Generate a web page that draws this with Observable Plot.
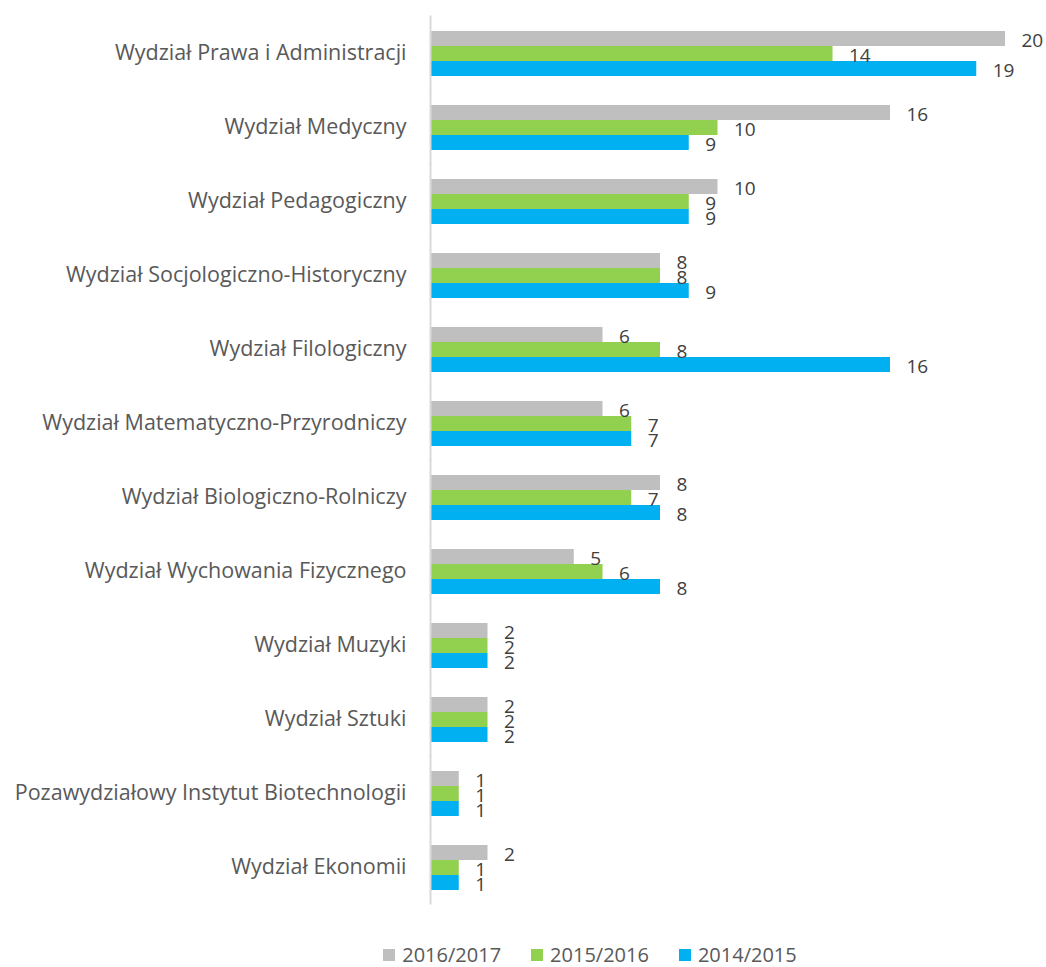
<!DOCTYPE html>
<html>
<head>
<meta charset="utf-8">
<script src="https://cdn.jsdelivr.net/npm/d3@7"></script>
<script src="https://cdn.jsdelivr.net/npm/@observablehq/plot@0.6"></script>
<style>
  html, body { margin: 0; background: #fff; font-family: "Open Sans", sans-serif; overflow: hidden; }
  #chart svg { display: block; }
  #legend { display: flex; justify-content: center; align-items: center; height: 24px; line-height: 24px; margin-top: 13px; font-size: 20px; color: #595959; padding-left: 134px; }
  .item { display: flex; align-items: center; margin: 0 15px; }
  .sw { width: 12px; height: 12px; margin-right: 7px; }
</style>
</head>
<body>
<div id="chart"></div>
<div id="legend"></div>
<script>
const categories = [
  "Wydział Prawa i Administracji",
  "Wydział Medyczny",
  "Wydział Pedagogiczny",
  "Wydział Socjologiczno-Historyczny",
  "Wydział Filologiczny",
  "Wydział Matematyczno-Przyrodniczy",
  "Wydział Biologiczno-Rolniczy",
  "Wydział Wychowania Fizycznego",
  "Wydział Muzyki",
  "Wydział Sztuki",
  "Pozawydziałowy Instytut Biotechnologii",
  "Wydział Ekonomii"
];
const seriesNames = ["2016/2017", "2015/2016", "2014/2015"];
const seriesColors = ["#BFBFBF", "#92D050", "#00B0F0"];
const v2016 = [20, 16, 10, 8, 6, 6, 8, 5, 2, 2, 1, 2];
const v2015 = [14, 10, 9, 8, 8, 7, 7, 6, 2, 2, 1, 1];
const v2014 = [19, 9, 9, 9, 16, 7, 8, 8, 2, 2, 1, 1];

const seriesValues = [v2016, v2015, v2014];
const data = [];
categories.forEach((c, i) => {
  seriesNames.forEach((s, j) => data.push({category: c, series: s, value: seriesValues[j][i]}));
});

const chart = Plot.plot({
  width: 1046,
  height: 930,
  marginLeft: 430,
  marginRight: 41,
  marginTop: 14,
  marginBottom: 24,
  style: {fontFamily: "Open Sans, sans-serif", background: "#fff"},
  x: {domain: [0, 20], axis: null},
  y: {domain: seriesNames, axis: null, padding: 0},
  fy: {domain: categories, paddingInner: 0.38, paddingOuter: 0.19, label: null},
  color: {domain: seriesNames, range: seriesColors},
  marks: [
    Plot.axisFy({tickSize: 0, tickPadding: 24, fontSize: 21.5, fill: "#595959", label: null, anchor: "left"}),
    Plot.barX(data, {fy: "category", y: "series", x: "value", fill: "series", insetTop: 0, insetBottom: 0}),
    Plot.ruleX(categories, {fy: d => d, x: () => 0, stroke: "#D9D9D9", strokeWidth: 2, insetTop: -14.5, insetBottom: -14.5}),
    Plot.text(data, {fy: "category", y: "series", x: "value", text: d => String(d.value), textAnchor: "start", dx: 16, dy: 2, fontSize: 19, fill: "#404040"})
  ]
});
document.getElementById("chart").appendChild(chart);

const legend = document.getElementById("legend");
seriesNames.forEach((s, j) => {
  const item = document.createElement("div");
  item.className = "item";
  const sw = document.createElement("span");
  sw.className = "sw";
  sw.style.background = seriesColors[j];
  const t = document.createElement("span");
  t.textContent = s;
  item.appendChild(sw);
  item.appendChild(t);
  legend.appendChild(item);
});
</script>
</body>
</html>
